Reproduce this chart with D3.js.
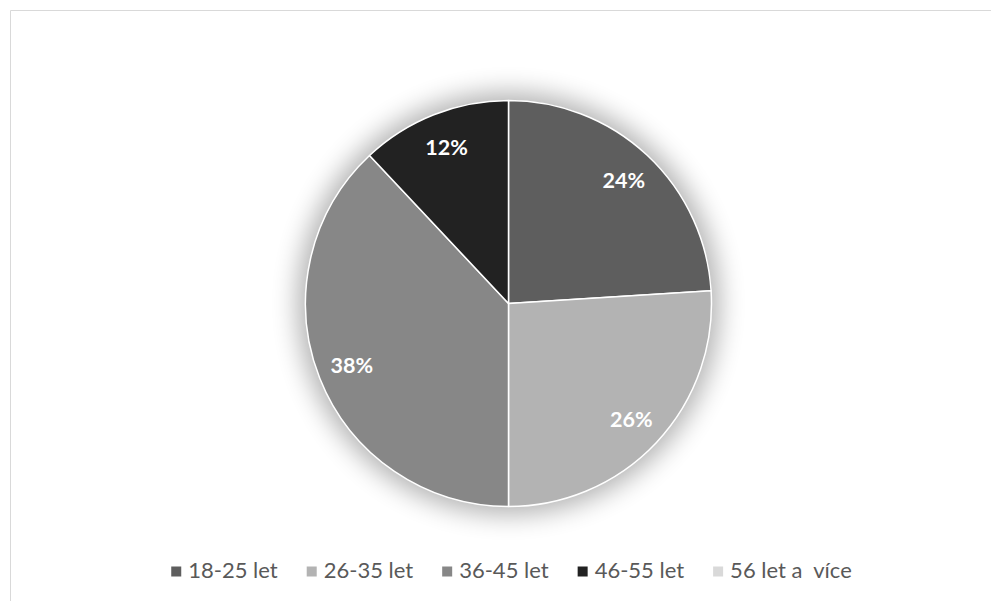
<!DOCTYPE html>
<html>
<head>
<meta charset="utf-8">
<script src="https://cdn.jsdelivr.net/npm/d3@7"></script>
<style>
  html, body { margin: 0; padding: 0; background: #fff; }
  svg { display: block; }
</style>
</head>
<body>
<svg id="chart" width="991" height="601"></svg>
<script>
// Věkové skupiny respondentů
const categories = ["18-25 let", "26-35 let", "36-45 let", "46-55 let", "56 let a  více"];
const shares = [24, 26, 38, 12, 0];
const sliceColors = ["#5e5e5e", "#b3b3b3", "#878787", "#222222", "#d9d9d9"];

const W = 991, H = 601;
const cx = 508.5, cy = 303.5, R = 203;

const svg = d3.select("#chart");

// chart frame
svg.append("path")
  .attr("d", `M10.5,${H} V10.5 H${W}`)
  .attr("fill", "none")
  .attr("stroke", "#d9d9d9")
  .attr("stroke-width", 1);

// soft glow under the pie
const defs = svg.append("defs");
const glow = defs.append("filter").attr("id", "glow")
  .attr("x", "-40%").attr("y", "-40%").attr("width", "180%").attr("height", "180%");
glow.append("feGaussianBlur").attr("stdDeviation", 13);

const g = svg.append("g").attr("transform", `translate(${cx},${cy})`);

g.append("circle")
  .attr("r", R + 8)
  .attr("fill", "#000")
  .attr("opacity", 0.3)
  .attr("filter", "url(#glow)");

const pie = d3.pie().sort(null).value(d => d.v);
const arcs = pie(categories.map((c, i) => ({ c, v: shares[i], i })));

const arc = d3.arc().innerRadius(0).outerRadius(R);
const labelArc = d3.arc().innerRadius(R * 0.83).outerRadius(R * 0.83);

g.selectAll("path.slice")
  .data(arcs.filter(d => d.data.v > 0))
  .join("path")
  .attr("class", "slice")
  .attr("d", arc)
  .attr("fill", d => sliceColors[d.data.i])
  .attr("stroke", "#fff")
  .attr("stroke-width", 1.5)
  .attr("stroke-linejoin", "round");

g.selectAll("text.lbl")
  .data(arcs.filter(d => d.data.v > 0))
  .join("text")
  .attr("class", "lbl")
  .attr("transform", d => `translate(${labelArc.centroid(d)})`)
  .attr("text-anchor", "middle")
  .attr("dy", "0.36em")
  .attr("font-family", "Lato, 'Open Sans', sans-serif")
  .attr("font-weight", "bold")
  .attr("font-size", 21.5)
  .attr("fill", "#fff")
  .text(d => d.data.v + "%");

// legend
const legend = svg.append("g");
const sq = 10, sqGap = 7, itemGap = 29;
const items = legend.selectAll("g.item")
  .data(categories)
  .join("g")
  .attr("class", "item");

items.append("rect")
  .attr("width", sq).attr("height", sq)
  .attr("y", -11)
  .attr("fill", (d, i) => sliceColors[i]);

items.append("text")
  .attr("x", sq + sqGap)
  .attr("font-family", "Lato, 'Open Sans', sans-serif")
  .attr("font-size", 22)
  .attr("fill", "#595959")
  .attr("xml:space", "preserve")
  .style("white-space", "pre")
  .text(d => d);

const widths = [];
items.each(function () {
  const w = sq + sqGap + d3.select(this).select("text").node().getComputedTextLength();
  widths.push(w);
});
const total = d3.sum(widths) + itemGap * (widths.length - 1);
const start = cx + 3 - total / 2;
items.attr("transform", (d, i) => {
  const tx = start + d3.sum(widths.slice(0, i)) + itemGap * i;
  return `translate(${tx},577.5)`;
});
</script>
</body>
</html>
